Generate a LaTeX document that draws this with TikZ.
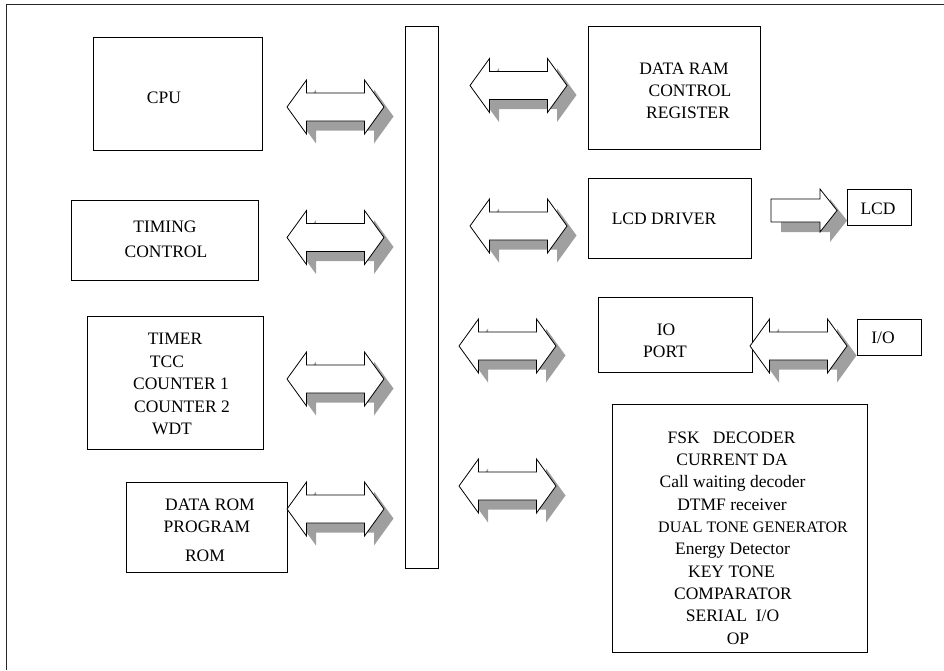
\documentclass[tikz,border=0pt]{standalone}
\usepackage{fontspec}
\setmainfont{Liberation Serif}
\begin{document}
\begin{tikzpicture}[x=1pt,y=-1pt,
  box/.style={draw, line width=0.8pt, inner sep=0pt, rectangle},
  lbl/.style={anchor=base, inner sep=0pt, font=\fontsize{17.5}{20}\selectfont},
  arrline/.style={draw=black, line width=0.8pt, fill=white, line join=miter},
  shad/.style={fill=gray!75, draw=none},
  dblarr/.pic={
    \fill[shad, shift={(9.5,9.5)}] (-48.5,0) -- (-29,-27) -- (-29,-14) -- (29,-14) -- (29,-27) -- (48.5,0) -- (29,27) -- (29,14) -- (-29,14) -- (-29,27) -- cycle;
    \path[arrline] (-48.5,0) -- (-29,-27) -- (-29,-14) -- (29,-14) -- (29,-27) -- (48.5,0) -- (29,27) -- (29,14) -- (-29,14) -- (-29,27) -- cycle;
  },
  sglarr/.pic={
    \fill[shad, shift={(10,10)}] (-33,-11.5) -- (16,-11.5) -- (16,-21.5) -- (33,0) -- (16,21.5) -- (16,11.5) -- (-33,11.5) -- cycle;
    \path[arrline] (-33,-11.5) -- (16,-11.5) -- (16,-21.5) -- (33,0) -- (16,21.5) -- (16,11.5) -- (-33,11.5) -- cycle;
  }]
\useasboundingbox (0,0) rectangle (944,670);
% outer frame
\coordinate (fbl) at (6.5,670);
\coordinate (ftl) at (6.5,4.5);
\coordinate (ftr) at (944,4.5);
\draw[line width=1.6pt, black!85] (fbl) -- (ftl) -- (ftr);

% boxes
\node[box, minimum width=169pt, minimum height=113pt] (cpu) at (177.5,93.5) {};
\node[box, minimum width=187pt, minimum height=80pt] (timing) at (164.5,240) {};
\node[box, minimum width=176pt, minimum height=133pt] (timer) at (175,382.5) {};
\node[box, minimum width=161pt, minimum height=90pt] (rom) at (206.5,527) {};
\node[box, minimum width=33pt, minimum height=542pt] (bus) at (421.5,297) {};
\node[box, minimum width=172pt, minimum height=123pt] (ram) at (674,87.5) {};
\node[box, minimum width=163pt, minimum height=80pt] (lcdd) at (669.5,218) {};
\node[box, minimum width=64pt, minimum height=36pt] (lcd) at (879,207) {};
\node[box, minimum width=154pt, minimum height=75pt] (port) at (675,334.5) {};
\node[box, minimum width=64pt, minimum height=36pt] (io) at (889,337) {};
\node[box, minimum width=255pt, minimum height=248pt] (fsk) at (739.5,528) {};

% block arrows
\pic (acpu) at (335.5,107) {dblarr};
\pic (atim) at (335.5,237.5) {dblarr};
\pic (atmr) at (335.5,379) {dblarr};
\pic (arom) at (335.5,509) {dblarr};
\pic (aram) at (518.5,85.5) {dblarr};
\pic (alcdd) at (518.5,226) {dblarr};
\pic (aport) at (507.5,346) {dblarr};
\pic (afsk) at (507.5,486) {dblarr};
\pic (aio) at (798.5,346) {dblarr};
\pic (alcd) at (804,210.5) {sglarr};

% labels
\node[lbl] (tcpu) at (164,103) {CPU};
\node[lbl] (ttim1) at (165,232.5) {TIMING};
\node[lbl] (ttim2) at (166,257.5) {CONTROL};
\node[lbl] (tt1) at (175,344.5) {TIMER};
\node[lbl] (tt2) at (167,367.5) {TCC};
\node[lbl] (tt3) at (181,389.5) {COUNTER 1};
\node[lbl] (tt4) at (182,412.5) {COUNTER 2};
\node[lbl] (tt5) at (172,434.5) {WDT};
\node[lbl] (tr1) at (210,510.5) {DATA ROM};
\node[lbl] (tr2) at (207,532.5) {PROGRAM};
\node[lbl] (tr3) at (205,561.5) {ROM};
\node[lbl] (tm1) at (684,74) {DATA RAM};
\node[lbl] (tm2) at (690,96.7) {CONTROL};
\node[lbl] (tm3) at (688,118) {REGISTER};
\node[lbl] (tld) at (664,224) {LCD DRIVER};
\node[lbl] (tlcd) at (878,214) {LCD};
\node[lbl] (tio) at (883,343) {I/O};
\node[lbl] (tp1) at (666,335.5) {IO};
\node[lbl] (tp2) at (665,357.5) {PORT};
\node[lbl] (f1) at (731.5,443.3) {FSK\ \ \ DECODER};
\node[lbl] (f2) at (732,465.6) {CURRENT DA};
\node[lbl] (f3) at (732.5,487.9) {Call waiting decoder};
\node[lbl] (f4) at (732,510.2) {DTMF receiver};
\node[lbl, font=\fontsize{16}{18}\selectfont] (f5) at (753,532.5) {DUAL TONE GENERATOR};
\node[lbl] (f6) at (732.5,554.8) {Energy Detector};
\node[lbl] (f7) at (731.5,577.1) {KEY TONE};
\node[lbl] (f8) at (733,599.4) {COMPARATOR};
\node[lbl] (f9) at (732.5,621.7) {SERIAL\ \ I/O};
\node[lbl] (f10) at (738,644) {OP};
\end{tikzpicture}
\end{document}
